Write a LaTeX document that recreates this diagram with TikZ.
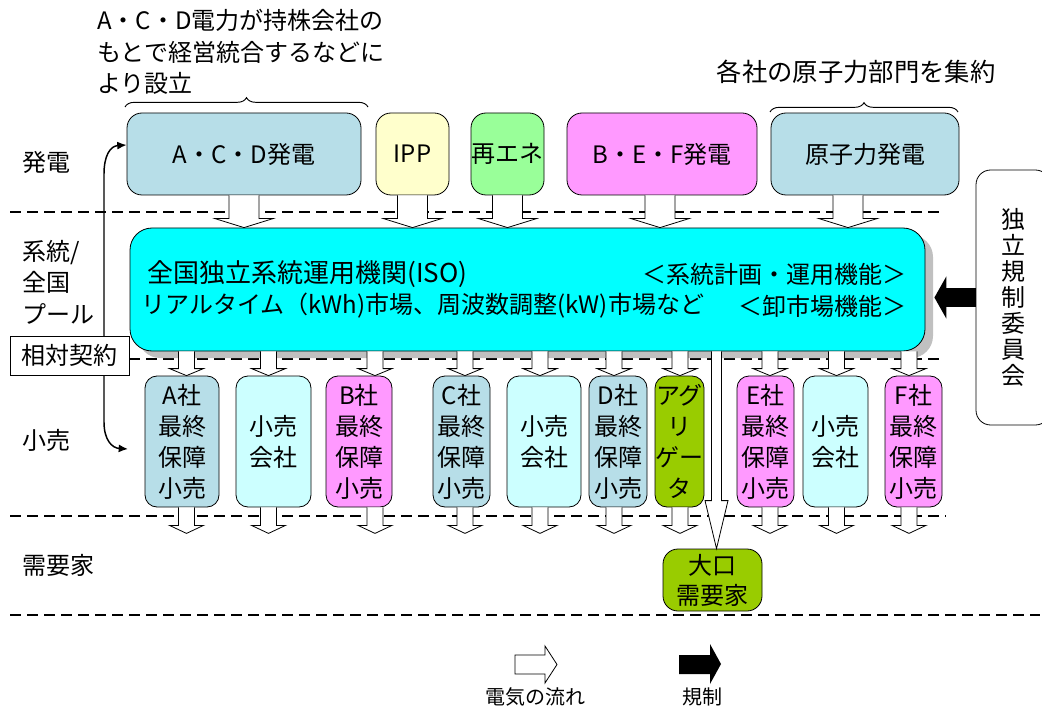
\documentclass[tikz,border=0pt]{standalone}
\usepackage{fontspec}
\setmainfont{Noto Sans CJK JP}
\usetikzlibrary{calc,arrows.meta,decorations.pathreplacing,shadows}
\definecolor{cacd}{HTML}{B7DEE8}
\definecolor{cipp}{HTML}{FFFFCC}
\definecolor{cre}{HTML}{99FF99}
\definecolor{cpink}{HTML}{FF99FF}
\definecolor{cret}{HTML}{CCFFFF}
\definecolor{cag}{HTML}{99CC00}
\definecolor{ciso}{HTML}{00FFFF}
\definecolor{cshadow}{HTML}{C0C0C0}
\newcommand\flowdown[5]{%
  \path[flow] let \p1=(#1), \p2=(#2) in
    (\x1-#3,\y1) -- (\x1-#3,\y2+#5) -- (\x1-#4,\y2+#5) -- (\x1,\y2)
    -- (\x1+#4,\y2+#5) -- (\x1+#3,\y2+#5) -- (\x1+#3,\y1);}
\newcommand\retflow[2]{%
  \coordinate (x#1) at ($(#1.north)+(#2,0)$);
  \coordinate (s#1) at (x#1 |- iso.south);
  \coordinate (u#1) at (x#1 |- #1.south);
  \coordinate (t#1) at ($(u#1)+(0,26)$);
  \flowdown{s#1}{x#1}{6pt}{12.75pt}{5.25pt}
  \flowdown{u#1}{t#1}{6pt}{12.75pt}{6pt}}
\begin{document}
\begin{tikzpicture}[x=0.75pt,y=-0.75pt,
  box/.style={draw=black, line width=0.6pt, rounded corners=11.25pt, inner sep=0pt,
    align=center, font=\fontsize{18}{23.25}\selectfont},
  rbox/.style={box, rounded corners=9pt, minimum height=98.25pt},
  lbl/.style={font=\fontsize{18}{23.6}\selectfont, align=left, inner sep=0pt},
  txt/.style={font=\fontsize{18}{23}\selectfont, inner sep=0pt},
  sep/.style={dash pattern=on 8.25pt off 4.5pt, line width=1.5pt},
  flow/.style={draw=black, fill=white, line width=0.6pt, line join=miter},
  brc/.style={decorate, decoration={brace, amplitude=7pt}, line width=0.7pt}]
\useasboundingbox (0,0) rectangle (1042,709);

% separators
\draw[sep] (10,212) -- (942,212);
\draw[sep] (10,359) -- (944,359);
\draw[sep] (10,516) -- (946,516);
\draw[sep] (10,615) -- (1040,615);

% annotations
\node[lbl, anchor=west] (note1) at (97,52) {A・C・D電力が持株会社の\\もとで経営統合するなどに\\より設立};
\node[txt, font=\fontsize{19}{23}\selectfont] (note2) at (856,72) {各社の原子力部門を集約};
\draw[brc] (125,107) -- (368,107);
\draw[brc] (770,112) -- (958,112);

% row labels
\node[lbl, anchor=west] (lgen) at (22,162) {発電};
\node[lbl, anchor=west] (lpool) at (22,282) {系統/\\全国\\プール};
\node[lbl, anchor=west] (lret) at (22,440) {小売};
\node[lbl, anchor=west] (ldem) at (22,565) {需要家};

% generation
\node[box, fill=cacd, minimum width=175.5pt, minimum height=61.5pt] (acd) at (244,154) {A・C・D発電};
\node[box, fill=cipp, minimum width=54.75pt, minimum height=61.5pt] (ipp) at (412.5,154) {IPP};
\node[box, fill=cre, minimum width=54.75pt, minimum height=61.5pt] (re) at (507.5,154) {再エネ};
\node[box, fill=cpink, minimum width=142.5pt, minimum height=61.5pt] (bef) at (662,154) {B・E・F発電};
\node[box, fill=cacd, minimum width=141pt, minimum height=61.5pt] (nuc) at (865,154) {原子力発電};

% bilateral contract curve
\coordinate (ctop) at ($(acd.west)+(0,-9)$);
\coordinate (cbot) at (128,449);
\draw[line width=1.1pt, {Latex[length=7pt,width=6pt]}-{Latex[length=7pt,width=6pt]}]
  (ctop) .. controls (110,146) and (104,156) .. (104,174) -- (104,422)
  .. controls (104,440) and (112,448) .. (cbot);
\node[draw=black, fill=white, line width=0.6pt, inner sep=0pt, minimum width=89.25pt,
  minimum height=29.25pt, font=\fontsize{18}{22}\selectfont] (sotai) at (69.5,355.5) {相対契約};

% ISO
\node[box, fill=ciso, rounded corners=16.5pt, minimum width=596.25pt, minimum height=92.25pt,
  drop shadow={shadow xshift=6pt, shadow yshift=-5.25pt, fill=cshadow, opacity=1}] (iso) at (527.5,289.5) {};
\node[txt, anchor=west, font=\fontsize{19.5}{23}\selectfont] (iso1) at (147,274) {全国独立系統運用機関(ISO)};
\node[txt, anchor=west] (iso2) at (141,306) {リアルタイム（kWh)市場、周波数調整(kW)市場など};
\node[txt, anchor=east] (iso3) at (907,274) {＜系統計画・運用機能＞};
\node[txt, anchor=east] (iso4) at (907,306) {＜卸市場機能＞};

% retail
\node[rbox, fill=cacd, minimum width=55.5pt] (a) at (182,441.5) {A社\\最終\\保障\\小売};
\node[rbox, fill=cret, minimum width=56.25pt] (r1) at (273.5,441.5) {小売\\会社};
\node[rbox, fill=cpink, minimum width=49.5pt] (b) at (359,441.5) {B社\\最終\\保障\\小売};
\node[rbox, fill=cacd, minimum width=42.75pt] (c) at (461.5,441.5) {C社\\最終\\保障\\小売};
\node[rbox, fill=cret, minimum width=55.5pt] (r2) at (544,441.5) {小売\\会社};
\node[rbox, fill=cacd, minimum width=43.5pt] (d) at (618,441.5) {D社\\最終\\保障\\小売};
\node[rbox, fill=cag, minimum width=36.75pt] (ag) at (679.5,441.5) {アグ\\リ\\ゲー\\タ};
\node[rbox, fill=cpink, minimum width=42.75pt] (e) at (765.5,441.5) {E社\\最終\\保障\\小売};
\node[rbox, fill=cret, minimum width=48.75pt] (r3) at (835.5,441.5) {小売\\会社};
\node[rbox, fill=cpink, minimum width=42.75pt] (f) at (913.5,441.5) {F社\\最終\\保障\\小売};

% large customer
\node[box, fill=cag, minimum width=74.25pt, minimum height=46.5pt, font=\fontsize{18}{22.5}\selectfont] (big) at (712.5,580) {大口\\需要家};

% regulator
\node[box, fill=white, rounded corners=11pt, minimum width=55.5pt, minimum height=191.25pt,
  font=\fontsize{18}{19.5}\selectfont] (reg) at (1013,297.5) {独\\立\\規\\制\\委\\員\\会};

% flows generation -> ISO
\flowdown{acd.south}{acd.south |- iso.north}{11.25pt}{21.75pt}{6.75pt}
\flowdown{ipp.south}{ipp.south |- iso.north}{11.25pt}{21.75pt}{6.75pt}
\flowdown{re.south}{re.south |- iso.north}{11.25pt}{21.75pt}{6.75pt}
\coordinate (xbef) at ($(bef.south)+(-2,0)$);
\flowdown{xbef}{xbef |- iso.north}{11.25pt}{21.75pt}{6.75pt}
\coordinate (xnuc) at ($(nuc.south)+(-17,0)$);
\flowdown{xnuc}{xnuc |- iso.north}{11.25pt}{21.75pt}{6.75pt}

% flows ISO -> retail -> customers
\retflow{a}{4.5}
\retflow{r1}{-5}
\retflow{b}{16}
\retflow{c}{3.5}
\retflow{r2}{-4}
\retflow{d}{-4}
\retflow{ag}{0.5}
\retflow{e}{4.5}
\retflow{r3}{1}
\retflow{f}{-4.5}
\coordinate (xbig) at ($(big.north)+(4,0)$);
\coordinate (sbig) at (xbig |- iso.south);
\flowdown{sbig}{xbig}{3.75pt}{8.625pt}{36pt}

% regulation arrow
\coordinate (regtip) at ($(reg.west -| iso.east)+(9,0)$);
\draw[line width=14.25pt, -{Triangle[length=9pt,width=31.5pt]}] (reg.west) -- (regtip);

% legend
\draw[flow] (515,655) -- (545,655) -- (545,646) -- (557,664.5) -- (545,683) -- (545,674) -- (515,674) -- cycle;
\fill (679,655) -- (710,655) -- (710,644) -- (721,664) -- (710,684) -- (710,674) -- (679,674) -- cycle;
\node[font=\fontsize{15}{18}\selectfont, inner sep=0pt] (lg1) at (535,697) {電気の流れ};
\node[font=\fontsize{15}{18}\selectfont, inner sep=0pt] (lg2) at (702,697) {規制};
\end{tikzpicture}
\end{document}
